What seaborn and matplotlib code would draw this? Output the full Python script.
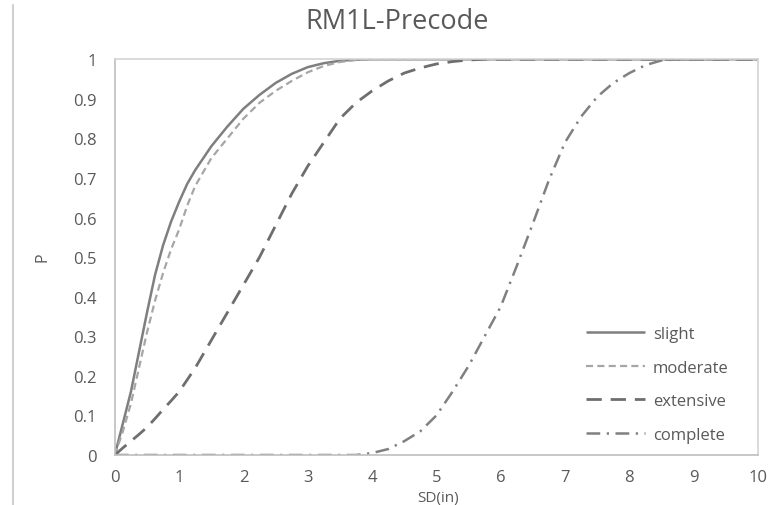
import matplotlib
matplotlib.use("Agg")
import matplotlib.pyplot as plt
import seaborn as sns
import pandas as pd
from matplotlib.lines import Line2D

# ---------------- data ----------------
sd = [0.0, 0.125, 0.25, 0.375, 0.5, 0.625, 0.75, 0.875, 1.0, 1.125, 1.25,
      1.5, 1.75, 2.0, 2.25, 2.5, 2.75, 3.0, 3.25, 3.5, 3.75, 4.0, 4.25, 4.5,
      4.75, 5.0, 5.25, 5.5, 5.75, 6.0, 6.25, 6.5, 6.75, 7.0, 7.25, 7.5, 7.75,
      8.0, 8.25, 8.5, 8.75, 9.0, 9.25, 9.5, 9.75, 10.0]

slight = [0.0, 0.08, 0.16, 0.26, 0.36, 0.455, 0.53, 0.59, 0.64, 0.685, 0.72,
          0.78, 0.83, 0.875, 0.91, 0.94, 0.963, 0.98, 0.99, 0.996, 0.999,
          1.0, 1.0, 1.0, 1.0, 1.0, 1.0, 1.0, 1.0, 1.0, 1.0, 1.0, 1.0, 1.0,
          1.0, 1.0, 1.0, 1.0, 1.0, 1.0, 1.0, 1.0, 1.0, 1.0, 1.0, 1.0]

moderate = [0.0, 0.06, 0.13, 0.22, 0.31, 0.39, 0.46, 0.52, 0.57, 0.63, 0.68,
            0.75, 0.80, 0.85, 0.89, 0.92, 0.945, 0.967, 0.983, 0.993, 0.998,
            1.0, 1.0, 1.0, 1.0, 1.0, 1.0, 1.0, 1.0, 1.0, 1.0, 1.0, 1.0, 1.0,
            1.0, 1.0, 1.0, 1.0, 1.0, 1.0, 1.0, 1.0, 1.0, 1.0, 1.0, 1.0]

extensive = [0.0, 0.018, 0.035, 0.052, 0.07, 0.092, 0.115, 0.137, 0.16, 0.19,
             0.22, 0.29, 0.36, 0.43, 0.50, 0.58, 0.66, 0.73, 0.79, 0.85, 0.89,
             0.92, 0.945, 0.965, 0.978, 0.988, 0.994, 0.998, 1.0, 1.0, 1.0,
             1.0, 1.0, 1.0, 1.0, 1.0, 1.0, 1.0, 1.0, 1.0, 1.0, 1.0, 1.0, 1.0,
             1.0, 1.0]

complete = [0.0, 0.0, 0.0, 0.0, 0.0, 0.0, 0.0, 0.0, 0.0, 0.0, 0.0, 0.0, 0.0,
            0.0, 0.0, 0.0, 0.0, 0.0, 0.0, 0.0, 0.0, 0.005, 0.015, 0.035, 0.06,
            0.10, 0.16, 0.225, 0.30, 0.375, 0.478, 0.585, 0.695, 0.79, 0.855,
            0.905, 0.94, 0.965, 0.985, 0.997, 1.0, 1.0, 1.0, 1.0, 1.0, 1.0]

series_names = ["slight", "moderate", "extensive", "complete"]
x_ticks = [0, 1, 2, 3, 4, 5, 6, 7, 8, 9, 10]
y_ticks = [0.0, 0.1, 0.2, 0.3, 0.4, 0.5, 0.6, 0.7, 0.8, 0.9, 1.0]
y_tick_labels = ["0", "0.1", "0.2", "0.3", "0.4", "0.5", "0.6", "0.7", "0.8", "0.9", "1"]
title = "RM1L-Precode"
x_label = "SD(in)"
y_label = "P"

# ---------------- styling ----------------
sns.set_theme(style="white")
plt.rcParams["font.family"] = ["Open Sans", "DejaVu Sans"]
TXT = "#595959"

df = pd.DataFrame({
    "SD": sd * 4,
    "P": slight + moderate + extensive + complete,
    "state": sum([[n] * len(sd) for n in series_names], []),
})

styles = {
    "slight":    dict(color="#7f7f7f", lw=1.8, dashes=None),
    "moderate":  dict(color="#a6a6a6", lw=1.6, dashes=(3.2, 1.9)),
    "extensive": dict(color="#6e6e6e", lw=2.0, dashes=(5.5, 3.2)),
    "complete":  dict(color="#808080", lw=1.8, dashes=(5.5, 2.6, 0.9, 2.6)),
}

fig = plt.figure(figsize=(7.76, 5.06), dpi=100)
ax = fig.add_axes([0.148, 0.0988, 0.9768 - 0.148, 0.881 - 0.0988])

handles = []
for name in series_names:
    st = styles[name]
    sub = df[df["state"] == name]
    sns.lineplot(data=sub, x="SD", y="P", ax=ax, color=st["color"],
                 linewidth=st["lw"], label=name, legend=False,
                 solid_capstyle="butt", dash_capstyle="butt",
                 solid_joinstyle="round")
    line = ax.get_lines()[-1]
    if st["dashes"] is not None:
        line.set_dashes(st["dashes"])
    h = Line2D([0], [0], color=st["color"], lw=st["lw"], solid_capstyle="butt",
               dash_capstyle="butt")
    if st["dashes"] is not None:
        h.set_dashes(st["dashes"])
    handles.append(h)

ax.set_xlim(0, 10)
ax.set_ylim(0, 1)
ax.set_xticks(x_ticks)
ax.set_xticklabels([str(t) for t in x_ticks])
ax.set_yticks(y_ticks)
ax.set_yticklabels(y_tick_labels)
ax.tick_params(axis="both", length=0, labelsize=12, labelcolor=TXT)
ax.tick_params(axis="x", pad=10)
ax.tick_params(axis="y", pad=13)
ax.set_xlabel("")
ax.set_ylabel("")
for s in ax.spines.values():
    s.set_visible(True)
    s.set_color("#d4d4d4")
    s.set_linewidth(1.2)
ax.spines["left"].set_color("#bfbfbf")
ax.spines["bottom"].set_color("#bfbfbf")

leg = ax.legend(handles, series_names, loc="upper left",
                bbox_to_anchor=(0.733, 0.326), frameon=False,
                fontsize=12, handlelength=3.5, handletextpad=0.5,
                labelspacing=1.06, borderpad=0, borderaxespad=0)
for t in leg.get_texts():
    t.set_color(TXT)

fig.text(397 / 776, 1 - 22 / 506, title, ha="center", va="center",
         fontsize=19.5, color=TXT)
fig.text(43 / 776, 1 - 257 / 506, y_label, ha="center", va="center",
         rotation=90, fontsize=11.5, color=TXT)
fig.text(438 / 776, 1 - 491 / 506, x_label, ha="center", va="top",
         fontsize=11, color=TXT)

# chart-area border line at the left edge
fig.add_artist(Line2D([13 / 776, 13 / 776], [0, 1 - 6 / 506],
                      transform=fig.transFigure, color="#d0d0d0", lw=1.5))

fig.savefig("out.png", dpi=100, facecolor="white")
